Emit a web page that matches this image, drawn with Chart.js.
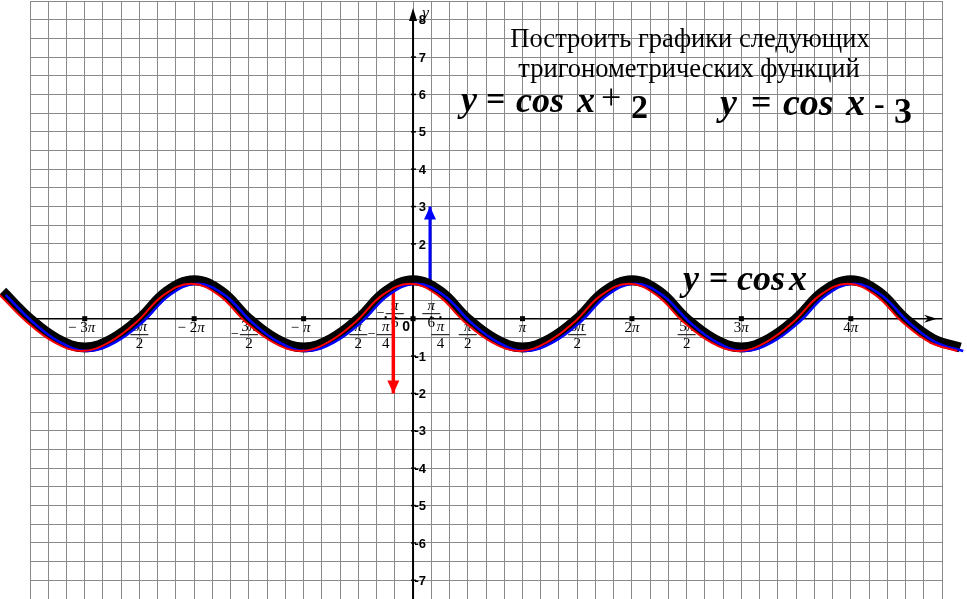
<!DOCTYPE html>
<html>
<head>
<meta charset="utf-8">
<script src="https://cdn.jsdelivr.net/npm/chart.js@4.4.0/dist/chart.umd.min.js"></script>
<style>
body { margin: 0; background: #fff; }
canvas { display: block; }
</style>
</head>
<body>
<canvas id="canvas" width="967" height="599"></canvas>
<script>
// x - в долях pi, y - значения
var curveX = [-3.75, -3.5, -3.25, -3, -2.75, -2.5, -2.25, -2, -1.75, -1.5, -1.25, -1,
              -0.75, -0.5, -0.25, 0, 0.25, 0.5, 0.75, 1, 1.25, 1.5, 1.75, 2,
              2.25, 2.5, 2.75, 3, 3.25, 3.5, 3.75, 4, 4.25, 4.5, 4.75, 5];
var curveY = [0.73, 0, -0.54, -0.77, -0.54, 0, 0.73, 1.03, 0.73, 0, -0.54, -0.77,
              -0.54, 0, 0.73, 1.03, 0.73, 0, -0.54, -0.77, -0.54, 0, 0.73, 1.03,
              0.73, 0, -0.54, -0.77, -0.54, 0, 0.73, 1.03, 0.73, 0, -0.54, -0.77];

//подписи оси x
var xTickVals = [-3, -2.5, -2, -1.5, -1, -0.5, -0.25, -0.1667, 0.1667, 0.25, 0.5, 1, 1.5, 2, 2.5, 3, 4];
var xTickText = ['−3π', '−5π/2', '−2π', '−3π/2', '−π', '−π/2', '−π/4', '−π/6', 'π/6', 'π/4', 'π/2',
                 'π', '3π/2', '2π', '5π/2', '3π', '4π'];
//подписи оси y
var yTickVals = [8, 7, 6, 5, 4, 3, 2, 1, -1, -2, -3, -4, -5, -6, -7];

//стрелки: x, от, до
var arrowUp = [0.155, 1.0, 3.0];
var arrowDown = [-0.18, 0.9, -2.0];

var titleLines = ['Построить графики следующих', 'тригонометрических функций'];

//сетка (клетка)
var gridStepX = 1 / 6;
var gridStepY = 0.5;

var pts = [];
for (var i = 0; i < curveX.length; i++) pts.push({x: curveX[i], y: curveY[i]});

function arrowData(a) {
    return [{x: a[0], y: a[1]}, {x: a[0], y: a[2]}];
}

//текст с курсивным pi
function drawPi(ctx, str, cx, cy, size) {
    var parts = [];
    var w = 0;
    for (var i = 0; i < str.length; i++) {
        var f = (str[i] == 'π' ? 'italic ' : '') + size + 'px "Liberation Serif"';
        ctx.font = f;
        var cw = ctx.measureText(str[i]).width;
        parts.push([str[i], f, cw]);
        w += cw;
    }
    var x = cx - w / 2;
    ctx.textAlign = 'left';
    ctx.textBaseline = 'middle';
    parts.forEach(function(p) {
        ctx.font = p[1];
        ctx.fillText(p[0], x, cy);
        x += p[2];
    });
}

function drawAxes(chart) {
    var ctx = chart.ctx;
    var xs = chart.scales.x, ys = chart.scales.y;
    var ax = xs.getPixelForValue(0), ay = ys.getPixelForValue(0);

    ctx.save();
    ctx.strokeStyle = '#000';
    ctx.fillStyle = '#000';

    //ось x
    ctx.lineWidth = 1.5;
    ctx.beginPath();
    ctx.moveTo(xs.left, ay);
    ctx.lineTo(xs.right, ay);
    ctx.stroke();
    ctx.beginPath();
    ctx.moveTo(xs.right - 5, ay);
    ctx.lineTo(xs.right - 18, ay - 4);
    ctx.lineTo(xs.right - 14, ay);
    ctx.lineTo(xs.right - 18, ay + 4);
    ctx.closePath();
    ctx.fill();

    //ось y
    ctx.lineWidth = 2;
    ctx.beginPath();
    ctx.moveTo(ax, ys.bottom);
    ctx.lineTo(ax, ys.top + 12);
    ctx.stroke();
    ctx.beginPath();
    ctx.moveTo(ax, ys.top + 7);
    ctx.lineTo(ax - 4, ys.top + 20);
    ctx.lineTo(ax + 4, ys.top + 20);
    ctx.closePath();
    ctx.fill();

    //подписи y
    ctx.lineWidth = 1.5;
    yTickVals.forEach(function(v) {
        var py = ys.getPixelForValue(v);
        ctx.beginPath();
        ctx.moveTo(ax - 2, py);
        ctx.lineTo(ax + 3, py);
        ctx.stroke();
        ctx.font = 'bold 13px "Liberation Sans"';
        ctx.textAlign = 'right';
        ctx.textBaseline = 'middle';
        ctx.fillText(String(v), ax + 13, py + 1);
    });

    //ноль
    ctx.font = 'bold 14px "Liberation Sans"';
    ctx.textAlign = 'center';
    ctx.fillText('0', ax - 7, ay + 8);
    ctx.fillRect(ax - 2.5, ay - 2.5, 5, 5);

    //подписи x
    xTickVals.forEach(function(v, k) {
        var px = xs.getPixelForValue(v);
        var s = xTickText[k];
        if (Math.abs(v - Math.round(v)) < 0.01)
            ctx.fillRect(px - 2.5, ay - 2.5, 5, 5);
        else
            ctx.fillRect(px - 1, ay - 2.5, 2, 3);

        var neg = s[0] == '−';
        var body = neg ? s.slice(1) : s;
        if (body.indexOf('/') < 0) {
            drawPi(ctx, neg ? '− ' + body : body, px - (neg ? 3 : 0), ay + 9, 15);
            return;
        }
        var num = body.split('/')[0], den = body.split('/')[1];
        var above = Math.abs(v) < 0.2;
        var yNum = above ? ay - 13 : ay + 8;
        var yBar = above ? ay - 5 : ay + 16;
        var yDen = above ? ay + 4 : ay + 25;
        drawPi(ctx, num, px, yNum, 15);
        drawPi(ctx, den, px, yDen, 15);
        ctx.lineWidth = 1;
        ctx.beginPath();
        ctx.moveTo(px - 9, yBar);
        ctx.lineTo(px + 9, yBar);
        ctx.stroke();
        if (neg) drawPi(ctx, '−', px - 14, yBar, 14);
    });

    //буквы осей
    ctx.font = 'italic 16px "Liberation Serif"';
    ctx.textAlign = 'left';
    ctx.textBaseline = 'alphabetic';
    ctx.fillText('y', ax + 9, ys.top + 17);
    ctx.fillText('x', xs.right - 12, ay + 25);
    ctx.restore();
}

function drawHeads(chart) {
    var ctx = chart.ctx;
    var xs = chart.scales.x, ys = chart.scales.y;
    chart.data.datasets.forEach(function(ds) {
        if (!ds.head) return;
        var p = ds.data[1];
        var px = xs.getPixelForValue(p.x), py = ys.getPixelForValue(p.y);
        var d = ds.head == 'up' ? 1 : -1;
        ctx.save();
        ctx.fillStyle = ds.borderColor;
        ctx.beginPath();
        ctx.moveTo(px, py);
        ctx.lineTo(px - 6, py + d * 13);
        ctx.lineTo(px + 6, py + d * 13);
        ctx.closePath();
        ctx.fill();
        ctx.restore();
    });
}

function drawTexts(chart) {
    var ctx = chart.ctx;
    ctx.save();
    ctx.fillStyle = '#000';
    ctx.textBaseline = 'alphabetic';
    ctx.textAlign = 'center';
    ctx.font = '26.5px "Liberation Serif"';
    ctx.fillText(titleLines[0], 690, 47);
    ctx.fillText(titleLines[1], 689, 77);

    ctx.textAlign = 'left';
    var bi1 = 'bold italic 36px "Liberation Serif"';
    var bi2 = 'bold italic 38px "Liberation Serif"';
    var pieces = [
        ['y', bi1, 461, 111], ['=', 'bold 34px "Liberation Serif"', 486, 110], ['cos', bi1, 516, 112],
        ['x', bi1, 577, 112], ['+', '36px "Liberation Serif"', 601, 109], ['2', 'bold 34px "Liberation Serif"', 631, 118],
        ['y', bi2, 720, 115], ['=', 'bold 36px "Liberation Serif"', 751, 114], ['cos', bi2, 783, 115],
        ['x', bi2, 846, 115], ['-', 'bold 32px "Liberation Serif"', 874, 114], ['3', 'bold 36px "Liberation Serif"', 894, 123],
        ['y', bi1, 683, 290], ['=', 'bold 34px "Liberation Serif"', 709, 289], ['cos', bi1, 737, 290],
        ['x', bi1, 789, 290]
    ];
    pieces.forEach(function(p) {
        ctx.font = p[1];
        ctx.fillText(p[0], p[2], p[3]);
    });
    ctx.restore();
}

var sketch = {
    id: 'sketch',
    beforeDatasetsDraw: function(chart) { drawAxes(chart); },
    beforeDatasetDraw: function(chart, args) {
        var ds = chart.data.datasets[args.index];
        if (ds.shift) {
            chart.ctx.save();
            chart.ctx.translate(ds.shift[0], ds.shift[1]);
        }
    },
    afterDatasetDraw: function(chart, args) {
        var ds = chart.data.datasets[args.index];
        if (ds.shift) chart.ctx.restore();
    },
    afterDatasetsDraw: function(chart) {
        drawHeads(chart);
        drawTexts(chart);
    }
};

function gridTicks(step) {
    return function(scale) {
        var t = [];
        var k0 = Math.round(scale.min / step), k1 = Math.round(scale.max / step);
        for (var k = k0; k <= k1; k++) t.push({value: k * step});
        scale.ticks = t;
    };
}

var ctx = document.getElementById('canvas').getContext('2d');
new Chart(ctx, {
    type: 'line',
    data: {
        datasets: [{
            data: pts, borderColor: '#ff0000', borderWidth: 2, tension: 0.4,
            pointRadius: 0, clip: false, shift: [-3, 3.5]
        }, {
            data: pts, borderColor: '#0000ff', borderWidth: 2.5, tension: 0.4,
            pointRadius: 0, clip: false, shift: [3, 3.5]
        }, {
            data: pts, borderColor: '#000000', borderWidth: 10, tension: 0.4,
            pointRadius: 0, clip: false, borderJoinStyle: 'round'
        }, {
            data: arrowData(arrowUp), borderColor: '#0000ff', borderWidth: 3,
            pointRadius: 0, clip: false, head: 'up'
        }, {
            data: arrowData(arrowDown), borderColor: '#ff0000', borderWidth: 3.5,
            pointRadius: 0, clip: false, head: 'down'
        }]
    },
    options: {
        responsive: false,
        animation: false,
        events: [],
        layout: { padding: { left: 30, right: 25, top: 1, bottom: 0 } },
        plugins: { legend: { display: false }, tooltip: { enabled: false } },
        scales: {
            x: {
                type: 'linear', min: -3.5, max: 29 / 6,
                afterBuildTicks: gridTicks(gridStepX),
                ticks: { display: false },
                grid: { color: '#8a8a8a', lineWidth: 1, drawTicks: false },
                border: { display: false }
            },
            y: {
                type: 'linear', min: -7.5, max: 8.5,
                afterBuildTicks: gridTicks(gridStepY),
                ticks: { display: false },
                grid: { color: '#8a8a8a', lineWidth: 1, drawTicks: false },
                border: { display: false }
            }
        }
    },
    plugins: [sketch]
});
</script>
</body>
</html>
